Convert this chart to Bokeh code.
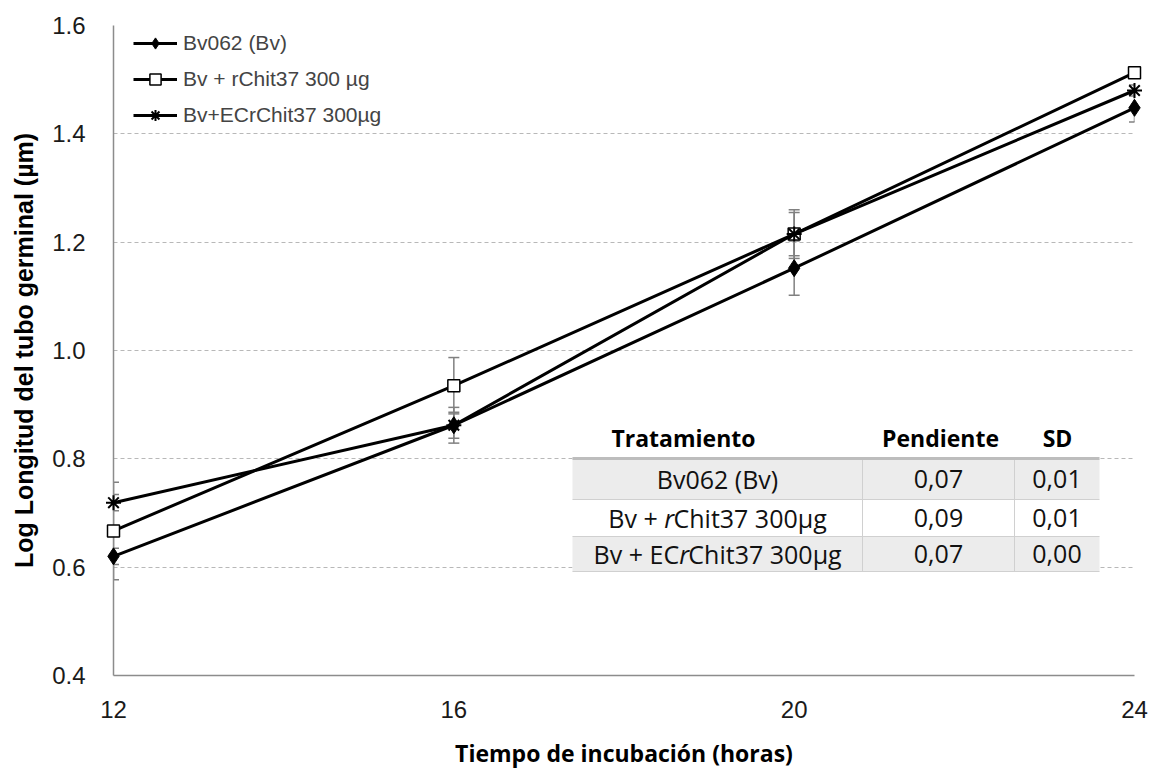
from bokeh.plotting import figure
from bokeh.models import (ColumnDataSource, Range1d, FixedTicker, PrintfTickFormatter,
                          Whisker, TeeHead, Legend, LegendItem, Label)
from bokeh.embed import file_html
from bokeh.resources import INLINE

# ---- data ----
hours = [12, 16, 20, 24]
bv062 = [0.620, 0.862, 1.152, 1.448]
bv062_sd = [0.015, 0.033, 0.050, 0.026]
rchit = [0.667, 0.935, 1.215, 1.513]
rchit_sd = [0.090, 0.052, 0.045, 0.010]
ecrchit = [0.719, 0.862, 1.215, 1.480]
ecrchit_sd = [0.015, 0.024, 0.040, 0.010]

legend_labels = ["Bv062 (Bv)", "Bv + rChit37 300 µg", "Bv+ECrChit37 300µg"]
x_ticks = [12, 16, 20, 24]
y_ticks = [0.4, 0.6, 0.8, 1.0, 1.2, 1.4, 1.6]

table_header = ["Tratamiento", "Pendiente", "SD"]
table_treat = [("Bv062 (Bv)", "", ""), ("Bv + ", "r", "Chit37 300µg"), ("Bv + EC", "r", "Chit37 300µg")]
table_slope = ["0,07", "0,09", "0,07"]
table_sd = ["0,01", "0,01", "0,00"]

W, H = 1154, 772
FL, FR, FT, FB = 113, 1134, 25, 675

p = figure(width=W, height=H, output_backend="svg", toolbar_location=None,
           x_range=Range1d(12, 24), y_range=Range1d(0.4, 1.6),
           min_border_left=FL, min_border_right=W - FR, min_border_top=FT,
           min_border_bottom=H - FB)
p.outline_line_color = None
p.background_fill_color = "white"

# axes
for ax in (p.xaxis[0], p.yaxis[0]):
    ax.axis_line_color = "#8c8c8c"
    ax.axis_line_width = 1.5
    ax.major_tick_line_color = None
    ax.minor_tick_line_color = None
    ax.major_label_text_font = "Liberation Sans"
    ax.major_label_text_font_size = "24px"
    ax.major_label_text_color = "#1a1a1a"
    ax.axis_label_text_color = "black"
    ax.axis_label_text_font_style = "bold"

p.xaxis.ticker = FixedTicker(ticks=x_ticks)
p.yaxis.ticker = FixedTicker(ticks=y_ticks)
p.yaxis.formatter = PrintfTickFormatter(format="%.1f")
p.xaxis.major_label_standoff = 19
p.yaxis.major_label_standoff = 22
p.xaxis.axis_label = "Tiempo de incubación (horas)"
p.xaxis.axis_label_text_font = "Open Sans"
p.xaxis.axis_label_text_font_size = "23px"
p.xaxis.axis_label_standoff = 16
p.yaxis.axis_label = "Log Longitud del tubo germinal (µm)"
p.yaxis.axis_label_text_font = "Liberation Sans"
p.yaxis.axis_label_text_font_size = "25px"
p.yaxis.axis_label_standoff = 11

p.xgrid.grid_line_color = None
p.ygrid.grid_line_color = "#b8b8b8"
p.ygrid.grid_line_dash = "4 3"
p.ygrid.grid_line_width = 1

# error bars
def add_err(vals, sds):
    src = ColumnDataSource(dict(x=hours, lo=[v - s for v, s in zip(vals, sds)],
                                hi=[v + s for v, s in zip(vals, sds)]))
    w = Whisker(source=src, base="x", lower="lo", upper="hi", dimension="height",
                line_color="#808080", line_width=1.5,
                upper_head=TeeHead(size=11, line_color="#808080", line_width=1.5),
                lower_head=TeeHead(size=11, line_color="#808080", line_width=1.5))
    p.add_layout(w)

add_err(bv062, bv062_sd)
add_err(rchit, rchit_sd)
add_err(ecrchit, ecrchit_sd)

# series
l1 = p.line(hours, bv062, line_color="black", line_width=3, level="overlay")
s1 = p.scatter(hours, bv062, marker="diamond", size=17,
               fill_color="black", line_color="black", level="overlay")
l2 = p.line(hours, rchit, line_color="black", line_width=3, level="overlay")
s2 = p.scatter(hours, rchit, marker="square", size=12, fill_color="white",
               line_color="black", line_width=1.5, level="overlay")
l3 = p.line(hours, ecrchit, line_color="black", line_width=3, level="overlay")
s3 = p.scatter(hours, ecrchit, marker="asterisk", size=15, line_color="black",
               line_width=2, level="overlay")

legend = Legend(items=[LegendItem(label=legend_labels[0], renderers=[l1, s1]),
                       LegendItem(label=legend_labels[1], renderers=[l2, s2]),
                       LegendItem(label=legend_labels[2], renderers=[l3, s3])],
                location=(20, 546), margin=0, padding=0, spacing=8,
                glyph_width=44, glyph_height=28, label_standoff=6,
                label_text_font="Liberation Sans", label_text_font_size="21px",
                background_fill_alpha=0, border_line_alpha=0)
p.add_layout(legend)

# ---- table (pixel layout converted to data space) ----
def dx(px):
    return 12 + (px - FL) * 12 / (FR - FL)

def dy(py):
    return 0.4 + (FB - py) * 1.2 / (FB - FT)

t_left, t_c1, t_c2, t_right = 572, 862, 1014, 1099
row_edges = [458, 499, 536, 571]
fills = ["#ececec", "white", "#ececec"]
p.quad(left=[dx(t_left)] * 3, right=[dx(t_right)] * 3,
       top=[dy(row_edges[i]) for i in range(3)],
       bottom=[dy(row_edges[i + 1]) for i in range(3)],
       fill_color=fills, line_color=None)
p.segment(x0=[dx(t_left)] * 3, x1=[dx(t_right)] * 3,
          y0=[dy(v) for v in row_edges[1:]], y1=[dy(v) for v in row_edges[1:]],
          line_color="#d0d0d0", line_width=1)
p.segment(x0=[dx(t_c1), dx(t_c2)], x1=[dx(t_c1), dx(t_c2)],
          y0=[dy(row_edges[0])] * 2, y1=[dy(row_edges[-1])] * 2,
          line_color="#d0d0d0", line_width=1)
p.segment(x0=[dx(t_left)], x1=[dx(t_right)], y0=[dy(row_edges[0])], y1=[dy(row_edges[0])],
          line_color="#bdbdbd", line_width=3)

hdr_x = [683, 940, 1057]
for txt, hx in zip(table_header, hdr_x):
    p.add_layout(Label(x=dx(hx), y=dy(437), text=txt, text_align="center",
                       text_baseline="middle", text_font="Open Sans",
                       text_font_style="bold", text_font_size="23px", text_color="black"))

row_c = [(row_edges[i] + row_edges[i + 1]) / 2 for i in range(3)]
col1_c = (t_left + t_c1) / 2
col2_c = (t_c1 + t_c2) / 2
col3_c = (t_c2 + t_right) / 2
FS = 25
EM = {"B": .63, "v": .5, " ": .26, "+": .57, "r": .41, "C": .63, "h": .61, "i": .25,
      "t": .35, "3": .57, "7": .57, "0": .57, "µ": .61, "g": .55, "E": .56}

def tw(s):
    return sum(EM.get(c, .57) for c in s) * FS

body_style = dict(text_baseline="middle", text_font="Open Sans",
                  text_font_size=f"{FS}px", text_color="#111111")
for i, (a, b, c) in enumerate(table_treat):
    yc = dy(row_c[i])
    if not b:
        p.add_layout(Label(x=dx(col1_c), y=yc, text=a, text_align="center", **body_style))
    else:
        total = tw(a) + tw(b) * 0.9 + tw(c)
        start = col1_c - total / 2
        xr = start + tw(a)
        p.add_layout(Label(x=dx(xr), y=yc, text=a, text_align="right", **body_style))
        p.add_layout(Label(x=dx(xr), y=yc, text=b, text_align="left",
                           text_font_style="italic", **body_style))
        p.add_layout(Label(x=dx(xr + tw(b) * 0.9), y=yc, text=c, text_align="left", **body_style))
    p.add_layout(Label(x=dx(col2_c), y=yc, text=table_slope[i], text_align="center", **body_style))
    p.add_layout(Label(x=dx(col3_c), y=yc, text=table_sd[i], text_align="center", **body_style))

open("out.html", "w").write(file_html(p, INLINE))
